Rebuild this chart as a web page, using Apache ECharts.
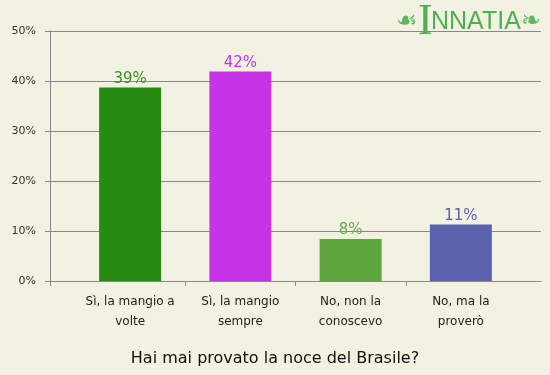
<!DOCTYPE html>
<html>
	<head>
		<meta charset="utf-8">
		<title>Noce del Brasile</title>
		<script src="https://cdn.jsdelivr.net/npm/echarts@6/dist/echarts.min.js"></script>
	</head>
	<body style="margin:0">
		<div id="box" style="width: 550px;height: 375px;"></div>
		<script>
			// dati del sondaggio
			var categories = ['Sì, la mangio a\nvolte', 'Sì, la mangio\nsempre', 'No, non la\nconoscevo', 'No, ma la\nproverò']
			var values = [38.7, 41.9, 8.4, 11.3]
			var barColors = ['#258a10', '#c535e5', '#5fa63f', '#5a62ad']
			var labelColors = ['#3c8f22', '#c535e5', '#6aab4c', '#5a62ad']
			var yTicks = [0, 10, 20, 30, 40, 50]
			var title = 'Hai mai provato la noce del Brasile?'

			var font = 'DejaVu Sans'
			var gridLeft = 50, gridRight = 9, gridTop = 31, gridBottom = 94
			var catLeft = 75, catWidth = 441
			var band = catWidth / categories.length
			// posizioni dei tick sull'asse x (in pixel rispetto alla griglia)
			var xTickPos = [0]
			for (var i = 1; i < categories.length; i++) {
				xTickPos.push(catLeft - gridLeft + i * band)
			}

			var mCharts = echarts.init(document.querySelector('#box'))

			var barData = []
			for (var i = 0; i < values.length; i++) {
				barData.push({
					value: values[i],
					itemStyle: { color: barColors[i] },
					label: { color: labelColors[i] }
				})
			}

			var option = {
				backgroundColor: '#f2f2e2',
				animation: false,
				title: {
					text: title,
					left: 'center',
					top: 346,
					textStyle: { fontFamily: font, fontSize: 16, fontWeight: 'normal', color: '#111' }
				},
				grid: [
					{ left: gridLeft, right: gridRight, top: gridTop, bottom: gridBottom },
					{ left: catLeft, width: catWidth, top: gridTop, bottom: gridBottom }
				],
				xAxis: [
					{
						gridIndex: 0,
						type: 'value',
						min: 0,
						max: 550 - gridLeft - gridRight,
						axisLine: { show: true, lineStyle: { color: '#888' } },
						axisTick: { show: true, length: 5, customValues: xTickPos, lineStyle: { color: '#888' } },
						axisLabel: { show: false },
						splitLine: { show: false }
					},
					{
						gridIndex: 1,
						type: 'category',
						data: categories,
						axisLine: { show: false },
						axisTick: { show: false },
						axisLabel: { fontFamily: font, fontSize: 12, lineHeight: 20, color: '#222', margin: 11, interval: 0 }
					}
				],
				yAxis: [
					{
						gridIndex: 0,
						type: 'value',
						min: yTicks[0],
						max: yTicks[yTicks.length - 1],
						interval: 10,
						axisLine: { show: true, lineStyle: { color: '#888' } },
						axisTick: { show: true, length: 5, lineStyle: { color: '#888' } },
						axisLabel: { formatter: '{value}%', fontFamily: font, fontSize: 11, color: '#333', margin: 14 },
						splitLine: { lineStyle: { color: '#888' } }
					},
					{
						gridIndex: 1,
						type: 'value',
						min: yTicks[0],
						max: yTicks[yTicks.length - 1],
						show: false
					}
				],
				// logo in alto a destra
				graphic: [
					{
						type: 'text', left: 396, top: 10,
						style: { text: '☙', font: '24px "DejaVu Sans"', fill: '#5cb85c' }
					},
					{
						type: 'text', left: 418, top: 0,
						style: { text: 'I', font: '44px "Liberation Serif"', fill: '#4fb04f' }
					},
					{
						type: 'text', left: 431, top: 10,
						style: { text: 'NNATIA', font: '25px "Liberation Sans"', fill: '#4fb04f' }
					},
					{
						type: 'text', left: 521, top: 10,
						style: { text: '❧', font: '24px "DejaVu Sans"', fill: '#5cb85c' }
					}
				],
				series: [
					{
						type: 'bar',
						xAxisIndex: 1,
						yAxisIndex: 1,
						barWidth: 62,
						data: barData,
						label: {
							show: true,
							position: 'top',
							distance: 1,
							fontFamily: font,
							fontSize: 15,
							formatter: function (p) {
								return Math.round(p.value) + '%'
							}
						}
					}
				]
			}
			mCharts.setOption(option)
		</script>
	</body>
</html>
